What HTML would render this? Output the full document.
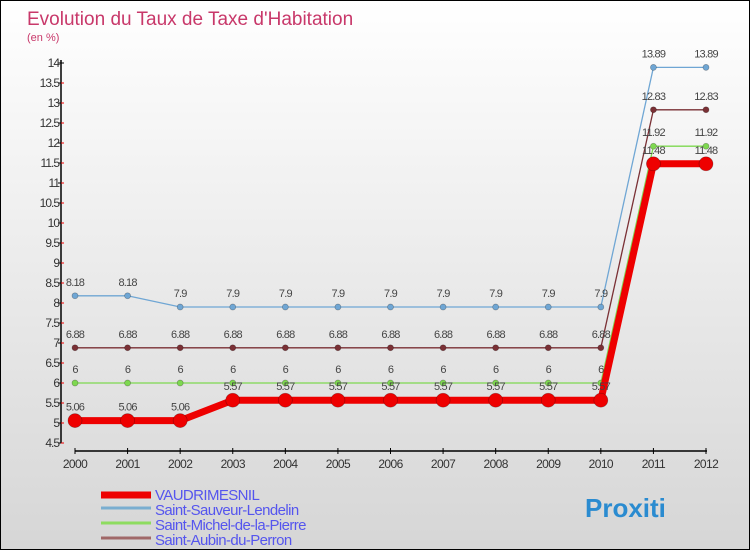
<!DOCTYPE html>
<html><head><meta charset="utf-8"><style>
body{margin:0}
#c{width:748px;height:548px;border:1px solid #000;background:linear-gradient(#fff,#d6d6d6);position:relative;font-family:"Liberation Sans",sans-serif;overflow:hidden}
</style></head><body>
<div id="c">
<svg id="s" width="748" height="548" xmlns="http://www.w3.org/2000/svg"></svg>
</div>
<script>
const years=["2000","2001","2002","2003","2004","2005","2006","2007","2008","2009","2010","2011","2012"];
const vaud=[5.06,5.06,5.06,5.57,5.57,5.57,5.57,5.57,5.57,5.57,5.57,11.48,11.48];
const sauveur=[8.18,8.18,7.9,7.9,7.9,7.9,7.9,7.9,7.9,7.9,7.9,13.89,13.89];
const michel=[6,6,6,6,6,6,6,6,6,6,6,11.92,11.92];
const aubin=[6.88,6.88,6.88,6.88,6.88,6.88,6.88,6.88,6.88,6.88,6.88,12.83,12.83];
const yTicks=["4.5","5","5.5","6","6.5","7","7.5","8","8.5","9","9.5","10","10.5","11","11.5","12","12.5","13","13.5","14"];
const names=["VAUDRIMESNIL","Saint-Sauveur-Lendelin","Saint-Michel-de-la-Pierre","Saint-Aubin-du-Perron"];
const s=document.getElementById('s');const NS="http://www.w3.org/2000/svg";
function X(i){return 74+i*(705-74)/12;}
function Y(v){return 62+(14-v)*40;}
function el(t,a,txt,name){const e=document.createElementNS(NS,t);for(const k in a)e.setAttribute(k,a[k]);if(txt!==undefined)e.textContent=txt;


s.appendChild(e);return e;}
el('text',{x:26,y:24,'font-size':19,fill:'#c8386a'},"Evolution du Taux de Taxe d'Habitation",'chart-title');
el('text',{x:26,y:40,'font-size':11,fill:'#c8386a'},"(en %)",'chart-subtitle');
el('line',{x1:60,y1:59,x2:60,y2:442,stroke:'#000','stroke-width':1.5},undefined,'y-axis');
el('line',{x1:74,y1:450,x2:706,y2:450,stroke:'#000','stroke-width':1.5},undefined,'x-axis');
yTicks.forEach((t,i)=>{const v=parseFloat(t),y=Y(v);
if(i>0)el('line',{x1:60,y1:y+20,x2:63,y2:y+20,stroke:'#e00'},undefined,'y-minor-tick');
el('line',{x1:57,y1:y,x2:63,y2:y,stroke:'#000'},undefined,'y-tick');
el('text',{x:58,y:y+4,'font-size':12,fill:'#333','text-anchor':'end','letter-spacing':'-1'},t,'y-tick-label');});
years.forEach((t,i)=>{el('line',{x1:X(i),y1:447,x2:X(i),y2:453,stroke:'#000'},undefined,'x-tick');
el('text',{x:X(i),y:467,'font-size':12,fill:'#333','text-anchor':'middle','letter-spacing':'-0.6'},t,'x-tick-label');});
function series(d,col,w,r,name){
el('polyline',{points:d.map((v,i)=>X(i)+','+Y(v)).join(' '),fill:'none',stroke:col,'stroke-width':w},undefined,name+'-line');
d.forEach((v,i)=>{el('circle',{cx:X(i),cy:Y(v),r:r,fill:col,stroke:'rgba(0,0,0,0.3)','stroke-width':0.7},undefined,name+'-point');
el('text',{x:X(i),y:Y(v)-10,'font-size':11,fill:'#444','text-anchor':'middle','letter-spacing':'-0.8'},String(v),name+'-value-label');});}
series(sauveur,'#6fa6d4',1.3,3,'saint-sauveur');
series(aubin,'#7a3035',1.3,3,'saint-aubin');
series(michel,'#7ed850',1.3,3,'saint-michel');
series(vaud,'#ee0000',7,7,'vaudrimesnil');
const lc=['#ee0000','#7aaed0','#8edc60','#a06868'],lw=[7,3,3,3];
names.forEach((n,i)=>{const y=492+i*15;
el('line',{x1:100,y1:y+(i==0?2:0),x2:150,y2:y+(i==0?2:0),stroke:lc[i],'stroke-width':lw[i]},undefined,'legend-swatch');
el('text',{x:154,y:y+7,'font-size':15,fill:'#5555ee','letter-spacing':'-0.6'},n,'legend-entry');});
el('text',{x:584,y:516,'font-size':26,'font-weight':'bold',fill:'#2a8bd0'},"Proxiti",'logo');
</script>
</body></html>
